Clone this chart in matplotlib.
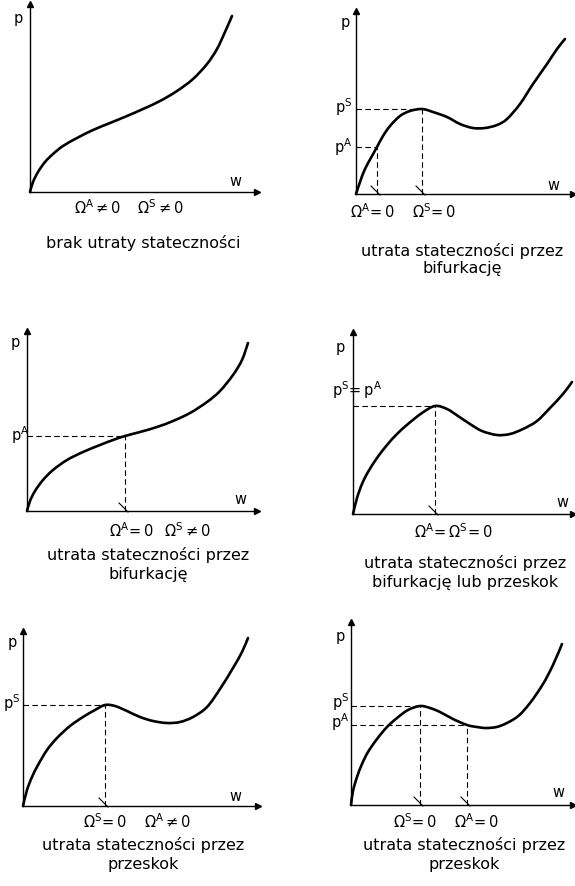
import matplotlib
matplotlib.use("Agg")
import matplotlib.pyplot as plt
from matplotlib.path import Path
from matplotlib.patches import PathPatch

plt.rcParams['font.family'] = ['DejaVu Sans']
plt.rcParams['mathtext.fontset'] = 'dejavusans'
plt.rcParams['mathtext.default'] = 'regular'

# ---------------- data (w, p) for the six equilibrium paths ----------------
w1 = [0, 3, 8, 15, 23, 33, 47, 63, 80, 97, 113, 130, 147, 163, 177, 187, 195, 202]
p1 = [0, 10, 20, 30, 38, 46, 54, 62, 69, 76, 83, 91, 101, 113, 128, 143, 160, 176]

w2 = [0, 4, 9, 16, 21, 27, 34, 44, 54, 66, 77, 91, 104, 117, 129, 141, 151, 164, 177, 191, 201, 209]
p2 = [0, 12, 25, 38, 47, 58, 68, 78, 83, 85, 82, 77, 70, 66, 66, 69, 75, 90, 110, 130, 145, 155]

w3 = [0, 3, 8, 16, 26, 40, 56, 73, 86, 98, 113, 130, 146, 163, 180, 193, 206, 215, 221]
p3 = [0, 10, 20, 31, 41, 51, 59, 66, 71, 75, 79, 84, 90, 98, 109, 120, 136, 151, 168]

w4 = [0, 4, 9, 15, 24, 34, 44, 55, 69, 82, 94, 105, 117, 129, 144, 157, 170, 184, 197, 210, 219]
p4 = [0, 16, 30, 42, 56, 69, 80, 90, 101, 108, 105, 98, 90, 83, 79, 80, 85, 93, 106, 120, 132]

w5 = [0, 4, 9, 15, 24, 34, 47, 60, 72, 82, 92, 104, 117, 130, 144, 157, 170, 184, 197, 210, 219, 225]
p5 = [0, 16, 29, 41, 56, 68, 80, 89, 96, 101, 100, 95, 89, 85, 83, 84, 89, 99, 117, 138, 154, 168]

w6 = [0, 2, 6, 11, 17, 26, 36, 46, 57, 69, 79, 89, 102, 116, 126, 136, 149, 166, 179, 192, 202, 211]
p6 = [0, 14, 28, 41, 53, 66, 78, 87, 95, 99, 97, 93, 86, 80, 78, 77, 79, 88, 102, 121, 140, 161]

# critical points (w, p) marked with dashed guides
crit2 = [(21, 47), (66, 85)]
crit3 = [(98, 75)]
crit4 = [(82, 108)]
crit5 = [(82, 101)]
crit6 = [(69, 99), (116, 80)]

curves = [(w1, p1), (w2, p2), (w3, p3), (w4, p4), (w5, p5), (w6, p6)]
crits = [[], crit2, crit3, crit4, crit5, crit6]

captions = [
    ["brak utraty stateczności"],
    ["utrata stateczności przez", "bifurkację"],
    ["utrata stateczności przez", "bifurkację"],
    ["utrata stateczności przez", "bifurkację lub przeskok"],
    ["utrata stateczności przez", "przeskok"],
    ["utrata stateczności przez", "przeskok"],
]

omega_labels = [
    [r"$\Omega^{A}\neq0$", r"$\Omega^{S}\neq0$"],
    [r"$\Omega^{A}\!=0$", r"$\Omega^{S}\!=0$"],
    [r"$\Omega^{A}\!=0$", r"$\Omega^{S}\neq0$"],
    [r"$\Omega^{A}\!=\Omega^{S}\!=0$"],
    [r"$\Omega^{S}\!=0$", r"$\Omega^{A}\neq0$"],
    [r"$\Omega^{S}\!=0$", r"$\Omega^{A}\!=0$"],
]

p_labels = [
    [],
    [(r"$p^{S}$", 107), (r"$p^{A}$", 147)],
    [(r"$p^{A}$", 435)],
    [(r"$p^{S}\!=p^{A}$", 390)],
    [(r"$p^{S}$", 703)],
    [(r"$p^{S}$", 702), (r"$p^{A}$", 722)],
]

# ---------------- layout (pixels) ----------------
W, H = 575, 887
# (y-axis x, x-axis y, top of y-axis, right end of x-axis)
boxes = [(30, 193, 5, 257), (356, 195, 12, 573),
         (27, 512, 332, 257), (353, 515, 333, 573),
         (23, 807, 632, 258), (351, 806, 623, 573)]
p_pos = [(18, 18), (345, 22), (15, 343), (340, 348), (12, 643), (340, 637)]
w_pos = [(235, 182), (553, 186), (240, 500), (562, 503), (235, 797), (558, 793)]
omega_pos = [[(98, 208), (160, 208)], [(372, 212), (434, 212)],
             [(131, 531), (187, 531)], [(453, 532)],
             [(105, 822), (168, 822)], [(415, 822), (476, 822)]]
caption_pos = [(143, 243), (462, 251), (148, 555), (465, 563), (143, 845), (464, 845)]
line_gaps = [0, 17, 20, 20, 20, 20]
plabel_x = [0, 352, 29, 332, 20, 349]
plabel_ha = ['right', 'right', 'right', 'left', 'right', 'right']

fig = plt.figure(figsize=(W / 100, H / 100), dpi=100)
fig.patch.set_facecolor('white')


def fx(x):
    return x / W


def fy(y):
    return 1 - y / H


def smooth_path(xs, ys):
    """Catmull-Rom spline through the given points, as cubic Bezier path."""
    pts = list(zip(xs, ys))
    n = len(pts)
    verts = [pts[0]]
    codes = [Path.MOVETO]
    for i in range(n - 1):
        p0 = pts[max(i - 1, 0)]
        p1_ = pts[i]
        p2_ = pts[i + 1]
        p3_ = pts[min(i + 2, n - 1)]
        c1 = (p1_[0] + (p2_[0] - p0[0]) / 6.0, p1_[1] + (p2_[1] - p0[1]) / 6.0)
        c2 = (p2_[0] - (p3_[0] - p1_[0]) / 6.0, p2_[1] - (p3_[1] - p1_[1]) / 6.0)
        verts += [c1, c2, p2_]
        codes += [Path.CURVE4] * 3
    return Path(verts, codes)


FS = 10.5
FSC = 11.5
slash = [(-1, 1), (1, -1)]

for i, (box, (w, p)) in enumerate(zip(boxes, curves)):
    x0, yb, yt, xr = box
    ax = fig.add_axes([fx(x0), fy(yb), (xr - x0) / W, (yb - yt) / H])
    ax.set_xlim(0, xr - x0)
    ax.set_ylim(0, yb - yt)
    ax.patch.set_alpha(0)
    for s in ['top', 'right']:
        ax.spines[s].set_visible(False)
    for s in ['left', 'bottom']:
        ax.spines[s].set_linewidth(1.0)
        ax.spines[s].set_color('black')
    ax.set_xticks([])
    ax.set_yticks([])
    # arrow heads
    ax.plot(1, 0, '>', color='black', ms=5, transform=ax.get_yaxis_transform(), clip_on=False)
    ax.plot(0, 1, '^', color='black', ms=5, transform=ax.get_xaxis_transform(), clip_on=False)
    # dashed guides
    for wc, pc in crits[i]:
        ax.plot([0, wc], [pc, pc], color='black', lw=0.8, dashes=(5, 3))
        ax.plot([wc, wc], [0, pc], color='black', lw=0.8, dashes=(5, 3))
        ax.plot([wc - 2], [4], marker=slash, color='black', ms=7, mew=0.8, clip_on=False)
    # equilibrium path (smooth curve through the read points)
    patch = PathPatch(smooth_path(w, p), facecolor='none', edgecolor='black', lw=1.9,
                      joinstyle='round', capstyle='round', clip_on=False)
    ax.add_patch(patch)

    # texts
    fig.text(fx(p_pos[i][0]), fy(p_pos[i][1]), "p", fontsize=FS, ha='center', va='center')
    fig.text(fx(w_pos[i][0]), fy(w_pos[i][1]), "w", fontsize=FS, ha='center', va='center')
    for lab, (ox, oy) in zip(omega_labels[i], omega_pos[i]):
        fig.text(fx(ox), fy(oy), lab, fontsize=FS, ha='center', va='center')
    cx, cy = caption_pos[i]
    for k, line in enumerate(captions[i]):
        fig.text(fx(cx), fy(cy + k * line_gaps[i]), line, fontsize=FSC, ha='center', va='center')
    for lab, ly in p_labels[i]:
        fig.text(fx(plabel_x[i]), fy(ly), lab, fontsize=FS, ha=plabel_ha[i], va='center')

fig.savefig("out.png", dpi=100, facecolor='white')
